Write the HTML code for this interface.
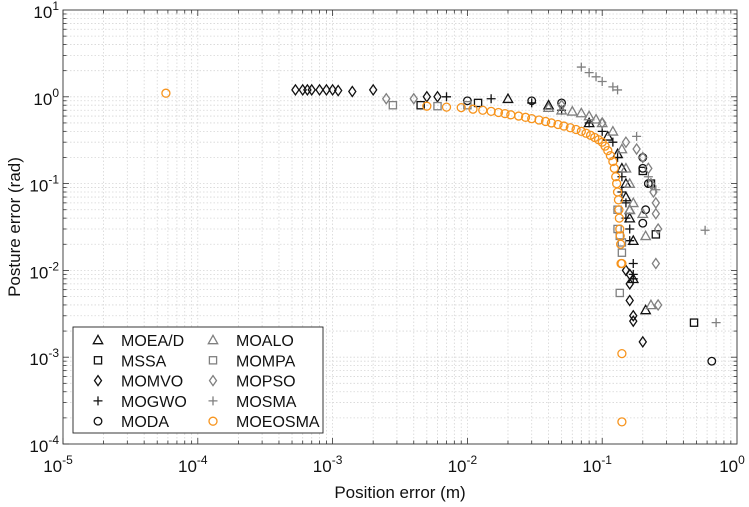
<!DOCTYPE html>
<html><head><meta charset="utf-8"><style>
body{margin:0;background:#fff;font-family:"Liberation Sans",Arial,sans-serif}
svg text{font-family:"Liberation Sans",Arial,sans-serif}
</style></head><body>
<svg id="c" width="749" height="502" xmlns="http://www.w3.org/2000/svg"></svg>
<script>
const seriesNames=["MOEA/D","MSSA","MOMVO","MOGWO","MODA","MOALO","MOMPA","MOPSO","MOSMA","MOEOSMA"];
const xTickExps=[-5,-4,-3,-2,-1,0];
const yTickExps=[-4,-3,-2,-1,0,1];
const moeadX=[0.02,0.04,0.08,0.11,0.13,0.14,0.15,0.15,0.16,0.16,0.17,0.17,0.21];
const moeadY=[0.95,0.8,0.5,0.35,0.22,0.15,0.1,0.07,0.05,0.04,0.022,0.008,0.0035];
const mssaX=[0.0045,0.012,0.2,0.23,0.25,0.48];
const mssaY=[0.8,0.85,0.14,0.1,0.026,0.0025];
const momvoX=[0.00053,0.0006,0.00065,0.0007,0.0008,0.0009,0.001,0.0011,0.0014,0.002,0.005,0.006,0.15,0.16,0.16,0.16,0.17,0.17,0.2];
const momvoY=[1.2,1.2,1.2,1.2,1.2,1.2,1.2,1.18,1.15,1.2,1.0,1.0,0.01,0.009,0.007,0.0045,0.003,0.0026,0.0015];
const mogwoX=[0.007,0.015,0.03,0.05,0.08,0.1,0.12,0.13,0.14,0.14,0.15,0.15,0.16,0.16,0.17,0.17,0.17];
const mogwoY=[1.0,0.95,0.85,0.7,0.5,0.4,0.3,0.2,0.12,0.08,0.06,0.04,0.03,0.022,0.012,0.009,0.008];
const modaX=[0.01,0.03,0.05,0.2,0.2,0.22,0.21,0.2,0.65];
const modaY=[0.9,0.9,0.85,0.2,0.15,0.1,0.05,0.035,0.0009];
const moaloX=[0.04,0.05,0.06,0.07,0.08,0.09,0.1,0.12,0.14,0.15,0.16,0.16,0.17,0.2,0.21,0.23];
const moaloY=[0.75,0.7,0.68,0.65,0.6,0.55,0.5,0.4,0.25,0.15,0.1,0.05,0.06,0.045,0.025,0.004];
const mompaX=[0.0028,0.006,0.01,0.13,0.13,0.135,0.14,0.14,0.135];
const mompaY=[0.8,0.78,0.8,0.05,0.03,0.025,0.021,0.016,0.0055];
const mopsoX=[0.0025,0.004,0.05,0.1,0.15,0.18,0.2,0.22,0.23,0.24,0.25,0.25,0.26,0.25,0.26];
const mopsoY=[0.95,0.95,0.8,0.5,0.3,0.25,0.2,0.15,0.1,0.08,0.06,0.045,0.03,0.012,0.004];
const mosmaX=[0.07,0.08,0.09,0.1,0.12,0.13,0.18,0.22,0.25,0.58,0.7];
const mosmaY=[2.2,1.9,1.7,1.5,1.3,1.2,0.35,0.12,0.085,0.029,0.0025];
const moeosmaX=[0.000058,0.005,0.007,0.009,0.011,0.013,0.015,0.017,0.019,0.021,0.024,0.027,0.03,0.034,0.038,0.042,0.047,0.052,0.058,0.064,0.07,0.076,0.082,0.088,0.094,0.1,0.105,0.11,0.115,0.12,0.123,0.126,0.128,0.13,0.132,0.133,0.134,0.135,0.136,0.137,0.138,0.14,0.14,0.14];
const moeosmaY=[1.1,0.78,0.76,0.75,0.72,0.7,0.68,0.66,0.64,0.62,0.6,0.58,0.56,0.54,0.52,0.5,0.48,0.46,0.44,0.42,0.4,0.38,0.36,0.34,0.32,0.3,0.27,0.24,0.21,0.18,0.15,0.12,0.1,0.08,0.065,0.05,0.04,0.03,0.025,0.02,0.012,0.012,0.0011,0.00018];

const NS="http://www.w3.org/2000/svg";
const svg=document.getElementById('c');
const L=63,R=737,T=10,B=444;
const xs=v=>L+(Math.log10(v)+5)/5*(R-L);
const ys=v=>B-(Math.log10(v)+4)/5*(B-T);
function mk(tag,attrs,parent){const e=document.createElementNS(NS,tag);for(const k in attrs)e.setAttribute(k,attrs[k]);(parent||svg).appendChild(e);return e;}
const grid=mk('g',{});


for(let e=-5;e<0;e++)for(let m=1;m<10;m++){const x=xs(m*Math.pow(10,e));if(x>L+0.5&&x<R-0.5)mk('line',{x1:x,x2:x,y1:T,y2:B,stroke:'#d6d6d6','stroke-width':0.8,'stroke-dasharray':'1.5,2'},grid);}
for(let e=-4;e<1;e++)for(let m=1;m<10;m++){const y=ys(m*Math.pow(10,e));if(y>T+0.5&&y<B-0.5)mk('line',{x1:L,x2:R,y1:y,y2:y,stroke:'#d6d6d6','stroke-width':0.8,'stroke-dasharray':'1.5,2'},grid);}
const ax=mk('g',{});


for(let e=-5;e<0;e++)for(let m=1;m<10;m++){const x=xs(m*Math.pow(10,e));const len=m==1?6:3.5;mk('line',{x1:x,x2:x,y1:B,y2:B-len,stroke:'#333','stroke-width':0.8},ax);mk('line',{x1:x,x2:x,y1:T,y2:T+len,stroke:'#333','stroke-width':0.8},ax);}
for(let e=-4;e<1;e++)for(let m=1;m<10;m++){const y=ys(m*Math.pow(10,e));const len=m==1?6:3.5;mk('line',{x1:L,x2:L+len,y1:y,y2:y,stroke:'#333','stroke-width':0.8},ax);mk('line',{x1:R,x2:R-len,y1:y,y2:y,stroke:'#333','stroke-width':0.8},ax);}
mk('rect',{x:L,y:T,width:R-L,height:B-T,fill:'none',stroke:'#333','stroke-width':0.9},ax);
xTickExps.forEach(e=>{const t=mk('text',{x:xs(Math.pow(10,e))-5,y:B+28,'font-size':17,'text-anchor':'middle',fill:'#111'});


t.innerHTML='10<tspan dy="-8" font-size="12">'+e+'</tspan>';});
yTickExps.forEach(e=>{const t=mk('text',{x:L-4,y:ys(Math.pow(10,e))+8,'font-size':17,'text-anchor':'end',fill:'#111'});


t.innerHTML='10<tspan dy="-8" font-size="12">'+e+'</tspan>';});
const xt=mk('text',{x:(L+R)/2,y:498,'font-size':17,'text-anchor':'middle',fill:'#111'});xt.textContent='Position error (m)';


const yt=mk('text',{x:0,y:0,'font-size':17,'text-anchor':'middle',fill:'#111',transform:'translate(20,'+(T+B)/2+') rotate(-90)'});yt.textContent='Posture error (rad)';



const BLK='#111',GR='#808080',OR='#f7941d';
function marker(type,color,x,y,g){
  const s=4.2,a={fill:'none',stroke:color,'stroke-width':1.3};
  let e;
  if(type=='tri')e=mk('polygon',Object.assign({points:`${x},${y-s-0.5} ${x-s-0.5},${y+s-0.5} ${x+s+0.5},${y+s-0.5}`},a),g);
  else if(type=='sq')e=mk('rect',Object.assign({x:x-3.6,y:y-3.6,width:7.2,height:7.2},a),g);
  else if(type=='dia')e=mk('polygon',Object.assign({points:`${x},${y-5} ${x+3.5},${y} ${x},${y+5} ${x-3.5},${y}`},a),g);
  else if(type=='plus')e=mk('path',Object.assign({d:`M${x-4.5},${y}H${x+4.5}M${x},${y-4.5}V${y+4.5}`},a),g);
  else e=mk('circle',Object.assign({cx:x,cy:y,r:type=='circO'?4:3.8},a),g);
  
  
}
const series=[
 ['moead',moeadX,moeadY,'tri',BLK],['mssa',mssaX,mssaY,'sq',BLK],['momvo',momvoX,momvoY,'dia',BLK],
 ['mogwo',mogwoX,mogwoY,'plus',BLK],['moda',modaX,modaY,'circ',BLK],['moalo',moaloX,moaloY,'tri',GR],
 ['mompa',mompaX,mompaY,'sq',GR],['mopso',mopsoX,mopsoY,'dia',GR],['mosma',mosmaX,mosmaY,'plus',GR],
 ['moeosma',moeosmaX,moeosmaY,'circO',OR]];
series.forEach(s=>{const g=mk('g',{});


s[1].forEach((v,i)=>marker(s[3],s[4],xs(v),ys(s[2][i]),g));});

const lg=mk('g',{});


mk('rect',{x:73,y:327,width:250,height:106,fill:'#fff',stroke:'#222','stroke-width':0.9},lg);
series.forEach((s,i)=>{const col=i<5?0:1,row=i%5;const mx=col?213:98,y=340+row*20.3;
 marker(s[3],s[4],mx,y,lg);
 const t=mk('text',{x:mx+23,y:y+6,'font-size':16,fill:'#111'},lg);t.textContent=seriesNames[i];
 
 });
</script>
</body></html>
